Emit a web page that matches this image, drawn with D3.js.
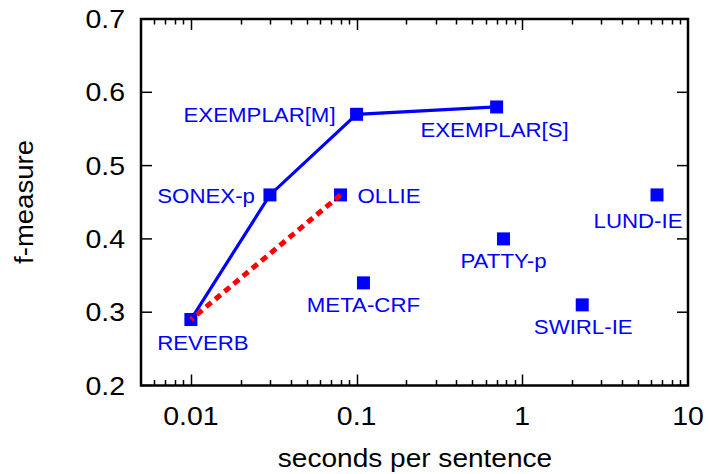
<!DOCTYPE html>
<html lang="en">
    <head>
        <meta charset="utf-8">
        <title>f-measure vs seconds per sentence</title>
        <style>
            body, html { margin: 0; padding: 0; background: #fff; }
            svg { display: block; }
            text { font-family: "Liberation Sans", Arial, sans-serif; }
        </style>
        <script src="https://d3js.org/d3.v7.min.js"></script>
    </head>
    <body>
        <svg id="chart" width="709" height="474"></svg>
        <script type="text/javascript">
            // data
            var systems  = ["REVERB", "SONEX-p", "OLLIE", "EXEMPLAR[M]", "META-CRF", "EXEMPLAR[S]", "PATTY-p", "SWIRL-IE", "LUND-IE"];
            var seconds  = [0.01, 0.03, 0.08, 0.1, 0.11, 0.7, 0.77, 2.3, 6.5];
            var fmeasure = [0.29, 0.46, 0.46, 0.57, 0.34, 0.58, 0.40, 0.31, 0.46];
            var blueLine = ["REVERB", "SONEX-p", "EXEMPLAR[M]", "EXEMPLAR[S]"];
            var redLine  = ["OLLIE", "REVERB"];
            var xTickLabels = ["0.01", "0.1", "1", "10"];
            var yTickLabels = ["0.2", "0.3", "0.4", "0.5", "0.6", "0.7"];

            // where each label sits relative to its point
            var placement = {
                "REVERB":      {anchor: "middle", dx: 12,  dy: 30},
                "SONEX-p":     {anchor: "end",    dx: -15, dy: 8},
                "OLLIE":       {anchor: "start",  dx: 17,  dy: 8},
                "EXEMPLAR[M]": {anchor: "end",    dx: -21, dy: 8},
                "META-CRF":    {anchor: "middle", dx: 0,   dy: 29},
                "EXEMPLAR[S]": {anchor: "middle", dx: -2,  dy: 30},
                "PATTY-p":     {anchor: "middle", dx: 0,   dy: 29},
                "SWIRL-IE":    {anchor: "middle", dx: 1,   dy: 29},
                "LUND-IE":     {anchor: "middle", dx: -19, dy: 33}
            };

            var plotLeft = 141, plotRight = 688, plotTop = 19, plotBottom = 385.5;
            var blue = "#0000ff";

            var points = systems.map(function(name, i) {
                return {name: name, x: seconds[i], y: fmeasure[i]};
            });
            var byName = {};
            points.forEach(function(p) { byName[p.name] = p; });

            var x = d3.scaleLog().domain([0.005, 10]).range([plotLeft, plotRight]);
            var y = d3.scaleLinear().domain([0.2, 0.7]).range([plotBottom, plotTop]);

            var svg = d3.select("#chart");

            // the original font is a bit wider than Liberation Sans, so stretch it
            function place(sel, fx, fy, sx, rot) {
                sel.attr("transform", function(d) {
                    return "translate(" + fx(d) + "," + fy(d) + ")" + (rot ? " rotate(" + rot + ")" : "") + " scale(" + sx + ",1)";
                });
            }

            // ticks (inward, mirrored on all four sides)
            var ticks = svg.append("g").attr("stroke", "black").attr("stroke-width", 1.5);
            x.ticks().forEach(function(t) {
                var major = Math.abs(Math.log10(t) - Math.round(Math.log10(t))) < 1e-9;
                var len = major ? 11 : 5.5;
                var px = Math.round(x(t)) + 0.5;
                if (px <= plotLeft + 1 || px >= plotRight - 1) return;
                ticks.append("line").attr("x1", px).attr("x2", px).attr("y1", plotBottom).attr("y2", plotBottom - len);
                ticks.append("line").attr("x1", px).attr("x2", px).attr("y1", plotTop).attr("y2", plotTop + len);
            });
            y.ticks(5).forEach(function(t) {
                var py = y(t);
                ticks.append("line").attr("x1", plotLeft).attr("x2", plotLeft + 11).attr("y1", py).attr("y2", py);
                ticks.append("line").attr("x1", plotRight).attr("x2", plotRight - 11).attr("y1", py).attr("y2", py);
            });

            // frame
            svg.append("rect")
                .attr("x", plotLeft).attr("y", plotTop)
                .attr("width", plotRight - plotLeft).attr("height", plotBottom - plotTop)
                .attr("fill", "none").attr("stroke", "black").attr("stroke-width", 2.5);

            // tick labels
            svg.append("g").selectAll("text")
                .data(xTickLabels)
                .enter().append("text")
                .call(place, function(d) { return x(+d); }, function() { return 425; }, 1.14)
                .attr("text-anchor", "middle")
                .attr("font-size", 25)
                .text(function(d) { return d; });

            svg.append("g").selectAll("text")
                .data(yTickLabels)
                .enter().append("text")
                .call(place, function() { return 125; }, function(d) { return y(+d) + 9; }, 1.14)
                .attr("text-anchor", "end")
                .attr("font-size", 25)
                .text(function(d) { return d; });

            // axis titles
            svg.append("g").selectAll("text")
                .data(["seconds per sentence"])
                .enter().append("text")
                .call(place, function() { return 415; }, function() { return 467; }, 1.1)
                .attr("text-anchor", "middle")
                .attr("font-size", 25.5)
                .text(function(d) { return d; });

            svg.append("g").selectAll("text")
                .data(["f-measure"])
                .enter().append("text")
                .call(place, function() { return 33; }, function() { return 202; }, 1.08, -90)
                .attr("text-anchor", "middle")
                .attr("font-size", 25.5)
                .text(function(d) { return d; });

            var line = d3.line()
                .x(function(d) { return x(d.x); })
                .y(function(d) { return y(d.y); });

            svg.append("path")
                .datum(blueLine.map(function(n) { return byName[n]; }))
                .attr("d", line)
                .attr("fill", "none")
                .attr("stroke", blue)
                .attr("stroke-width", 3.2);

            // points
            svg.append("g").selectAll("rect")
                .data(points)
                .enter().append("rect")
                .attr("x", function(d) { return x(d.x) - 6.5; })
                .attr("y", function(d) { return y(d.y) - 6.5; })
                .attr("width", 13).attr("height", 13)
                .attr("fill", blue);

            svg.append("path")
                .datum(redLine.map(function(n) { return byName[n]; }))
                .attr("d", line)
                .attr("fill", "none")
                .attr("stroke", "#ff0000")
                .attr("stroke-width", 5)
                .attr("stroke-dasharray", "7,5");

            // point labels
            svg.append("g").selectAll("text")
                .data(points)
                .enter().append("text")
                .call(place,
                      function(d) { return x(d.x) + placement[d.name].dx; },
                      function(d) { return y(d.y) + placement[d.name].dy; }, 1.06)
                .attr("text-anchor", function(d) { return placement[d.name].anchor; })
                .attr("font-size", 21)
                .attr("fill", blue)
                .text(function(d) { return d.name; });
        </script>
    </body>
</html>
